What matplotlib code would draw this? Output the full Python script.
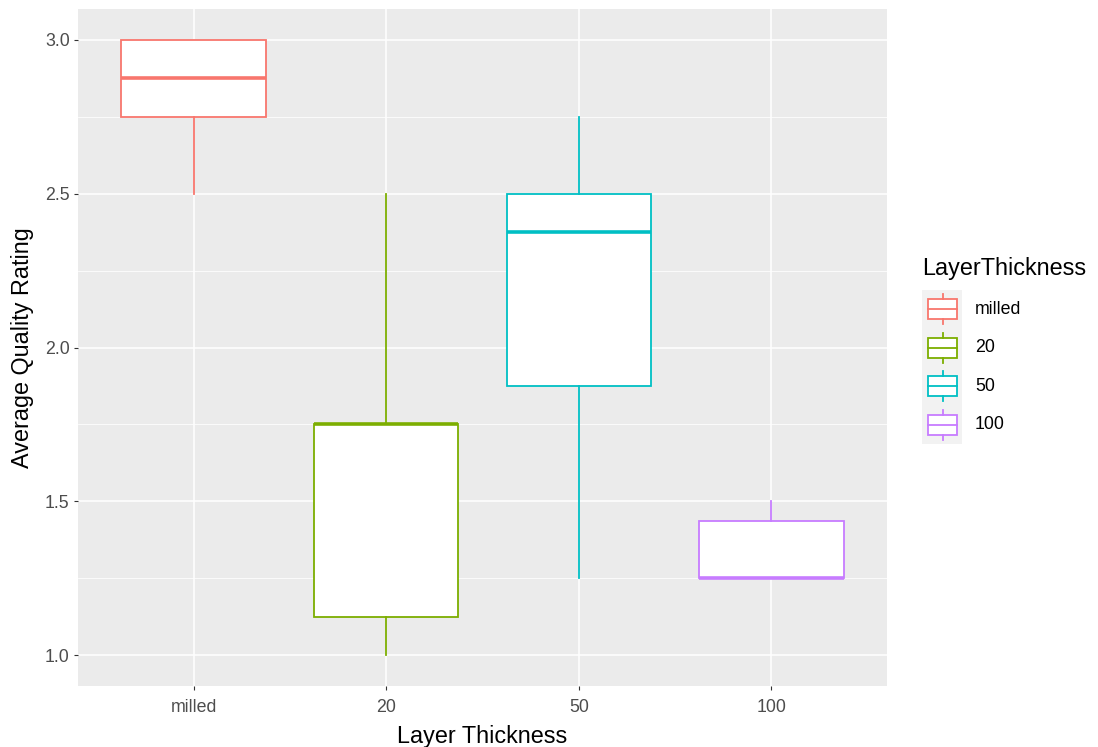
import matplotlib
matplotlib.use("Agg")
import matplotlib.pyplot as plt
from matplotlib.patches import Rectangle
from matplotlib.lines import Line2D

plt.rcParams['font.family'] = ['Liberation Sans', 'DejaVu Sans']

# data
categories = ["milled", "20", "50", "100"]
whis_lo = [2.5, 1.0, 1.25, 1.25]
q1 = [2.75, 1.125, 1.875, 1.25]
medians = [2.875, 1.75, 2.375, 1.25]
q3 = [3.0, 1.75, 2.5, 1.4375]
whis_hi = [3.0, 2.5, 2.75, 1.5]
colors = ["#F8766D", "#7CAE00", "#00BFC4", "#C77CFF"]

W, H = 1098, 747
fig = plt.figure(figsize=(W / 100, H / 100), dpi=100)
fig.patch.set_facecolor("white")

# panel in pixel coords
px_l, px_r, px_t, px_b = 78, 887, 9, 686
ax = fig.add_axes([px_l / W, 1 - px_b / H, (px_r - px_l) / W, (px_b - px_t) / H])
ax.set_facecolor("#EBEBEB")
for s in ax.spines.values():
    s.set_visible(False)

pos = list(range(len(categories)))
for i in pos:
    st = dict(med=medians[i], q1=q1[i], q3=q3[i], whislo=whis_lo[i],
              whishi=whis_hi[i], fliers=[])
    ax.bxp([st], positions=[i], widths=0.75, patch_artist=True,
           showcaps=False, showfliers=False,
           boxprops=dict(facecolor="white", edgecolor=colors[i], linewidth=1.3),
           whiskerprops=dict(color=colors[i], linewidth=1.3),
           medianprops=dict(color=colors[i], linewidth=2.6, solid_capstyle="butt"),
           zorder=3)

ax.set_xlim(-0.6, len(categories) - 1 + 0.6)
ax.set_ylim(0.9, 3.1)
ax.set_xticks(pos)
ax.set_xticklabels(categories)
ax.set_yticks([1.0, 1.5, 2.0, 2.5, 3.0])
ax.set_yticklabels(["1.0", "1.5", "2.0", "2.5", "3.0"])
ax.set_yticks([1.25, 1.75, 2.25, 2.75], minor=True)
ax.grid(True, which="major", color="white", linewidth=1.1, zorder=0)
ax.grid(True, which="minor", axis="y", color="white", linewidth=0.55, zorder=0)
ax.set_axisbelow(True)
ax.tick_params(axis="both", which="major", length=3, width=0.8, color="#333333",
               labelsize=12.8, labelcolor="#4D4D4D")
ax.tick_params(axis="x", pad=6)
ax.tick_params(axis="y", pad=3)
ax.tick_params(which="minor", length=0)
ax.set_xlabel("Layer Thickness", fontsize=16.8, color="black", labelpad=7)
ax.set_ylabel("Average Quality Rating", fontsize=16.8, color="black", labelpad=8)

# legend drawn by hand, ggplot style
def fx(x):
    return x / W

def fy(y):
    return 1 - y / H

fig.text(fx(922), fy(268), "LayerThickness", fontsize=16.8, va="center", ha="left")
key_l, key_r = 922, 962
key_h = 38.5
key_top = 290
fig.patches.append(Rectangle((fx(key_l), fy(key_top + key_h * len(categories))),
                             fx(key_r - key_l), (key_h * len(categories)) / H,
                             transform=fig.transFigure, facecolor="#F2F2F2",
                             edgecolor="none"))
for i, (lab, c) in enumerate(zip(categories, colors)):
    cy = key_top + key_h * (i + 0.5)
    bx0, bx1 = 928, 957
    by0, by1 = cy - 10, cy + 10
    fig.patches.append(Rectangle((fx(bx0), fy(by1)), fx(bx1 - bx0), (by1 - by0) / H,
                                 transform=fig.transFigure, facecolor="white",
                                 edgecolor=c, linewidth=1.3))
    mx = (bx0 + bx1) / 2
    fig.lines.append(Line2D([fx(mx), fx(mx)], [fy(cy - 15), fy(by0)],
                            transform=fig.transFigure, color=c, linewidth=1.3))
    fig.lines.append(Line2D([fx(mx), fx(mx)], [fy(by1), fy(cy + 15)],
                            transform=fig.transFigure, color=c, linewidth=1.3))
    fig.lines.append(Line2D([fx(bx0), fx(bx1)], [fy(cy), fy(cy)],
                            transform=fig.transFigure, color=c, linewidth=1.3))
    fig.text(fx(975), fy(cy), lab, fontsize=12.8, va="center", ha="left", color="black")

fig.savefig("out.png", dpi=100)
